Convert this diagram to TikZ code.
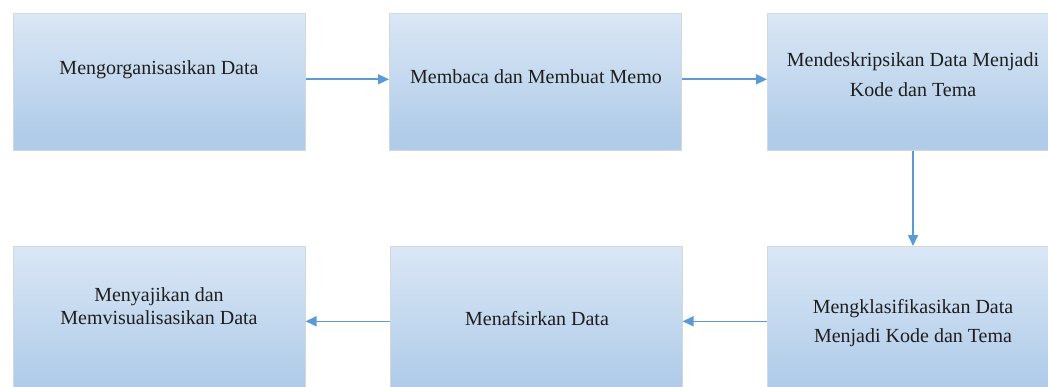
\documentclass[tikz,border=0pt]{standalone}
\usepackage{fontspec}
\setmainfont{Liberation Serif}
\usetikzlibrary{arrows.meta}

\definecolor{boxtop}{HTML}{F2F6FC}
\definecolor{boxmid}{HTML}{B0CCE9}
\definecolor{boxbot}{HTML}{B8D1EB}
\definecolor{boxline}{HTML}{D2D8E0}
\definecolor{flowblue}{HTML}{5B9BD5}
\definecolor{txt}{HTML}{1E1E1E}

% light at the top, blue towards the bottom, a touch lighter at the foot
\pgfdeclareverticalshading{boxgrad}{100bp}{%
  color(0bp)=(boxbot); color(8bp)=(boxmid); color(30bp)=(boxmid);
  color(100bp)=(boxtop)}

\tikzset{
  x=1pt, y=-1pt,
  stepbox/.style={anchor=north west, draw=boxline, line width=0.6pt,
    shading=boxgrad, minimum width=292pt, inner sep=0pt},
  toprow/.style={minimum height=137pt},
  bottomrow/.style={minimum height=150pt},
  label1/.style={anchor=base, align=center, text=txt,
    font=\fontsize{20}{30}\selectfont, inner sep=0pt},
  flow/.style={draw=flowblue, line width=1.6pt,
    -{Triangle[length=11pt,width=10pt]}}
}

\begin{document}
\begin{tikzpicture}
\useasboundingbox (0,0) rectangle (1048,387);
\begin{scope}
\clip (0,0) rectangle (1048,387);

% upper row
\node[stepbox, toprow] (b1) at (13,13) {};
\node[stepbox, toprow] (b2) at (389,13) {};
\node[stepbox, toprow] (b3) at (767,13) {};

% lower row
\node[stepbox, bottomrow] (b6) at (13,246) {};
\node[stepbox, bottomrow] (b5) at (390,246) {};
\node[stepbox, bottomrow] (b4) at (767,246) {};

% captions (base anchor sits on the last line)
\node[label1] (t1) at (159,75) {Mengorganisasikan Data};
\node[label1] (t2) at (536,84) {Membaca dan Membuat Memo};
\node[label1] (t3) at (913,97) {Mendeskripsikan Data Menjadi\\Kode dan Tema};
\node[label1, font=\fontsize{20}{29}\selectfont] (t4) at (913,342)
  {Mengklasifikasikan Data\\Menjadi Kode dan Tema};
\node[label1] (t5) at (537,325) {Menafsirkan Data};
\node[label1, font=\fontsize{20}{23}\selectfont] (t6) at (159,324)
  {Menyajikan dan\\Memvisualisasikan Data};

% connectors
\draw[flow] ([yshift=2.5pt]b1.east) -- ([yshift=2.5pt]b2.west);
\draw[flow] ([yshift=2.5pt]b2.east) -- ([yshift=2.5pt]b3.west);
\draw[flow] (b3.south -| t3.south) -- (b4.north -| t3.south);
\draw[flow] (b4.west |- b5.east) -- (b5.east);
\draw[flow] (b5.west) -- (b6.east);
\end{scope}
\end{tikzpicture}
\end{document}
